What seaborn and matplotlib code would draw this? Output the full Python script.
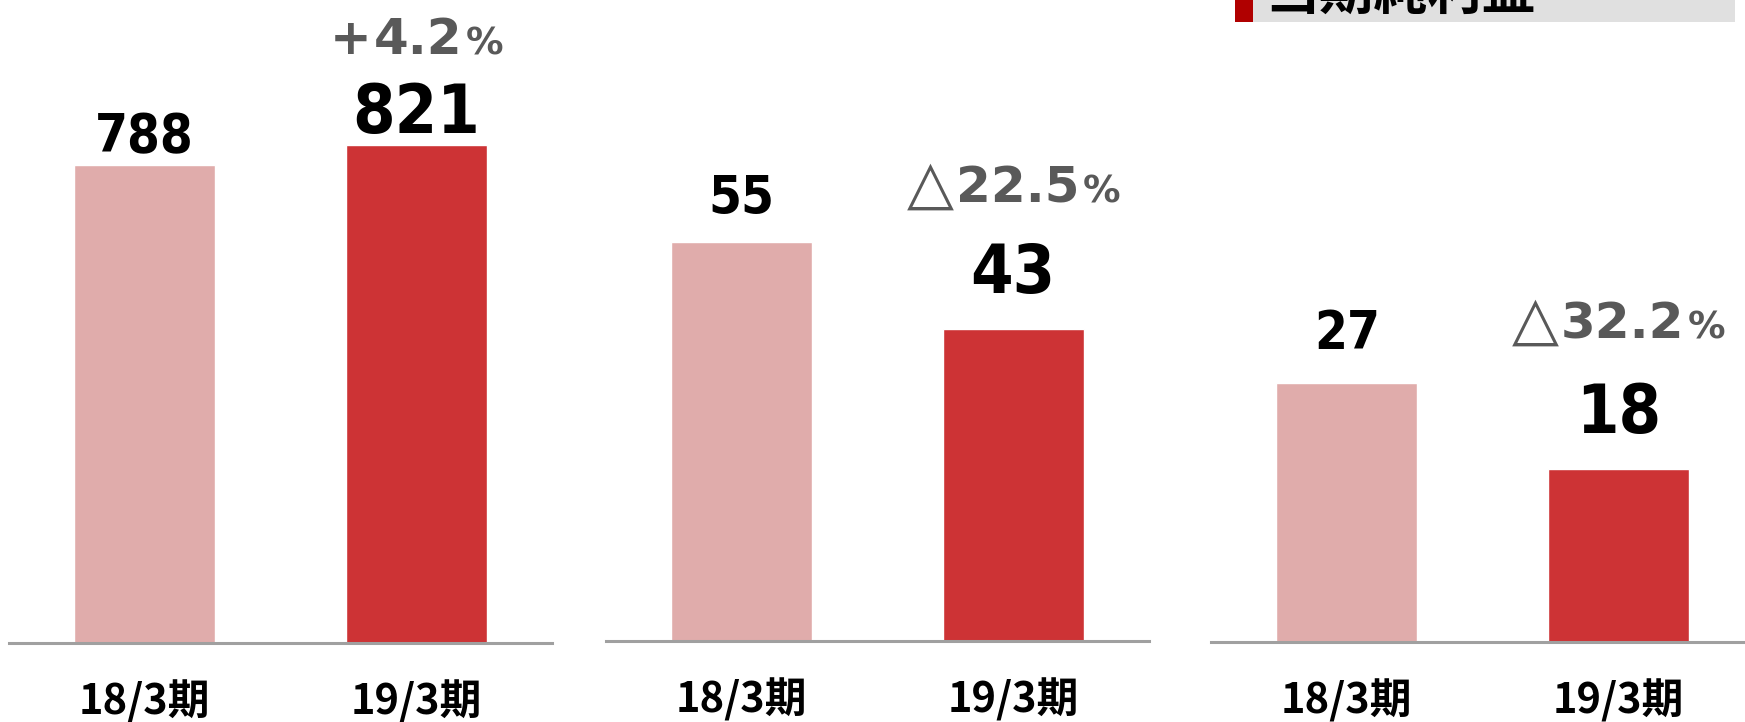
from pathlib import Path

import matplotlib

matplotlib.use("Agg")

import matplotlib.pyplot as plt
import seaborn as sns
from matplotlib.offsetbox import AnnotationBbox, HPacker, TextArea
from matplotlib.patches import Rectangle


OUTPUT_PATH = Path("out.png")

PERIODS = ["18/3期", "19/3期"]
SALES = [788, 821]
OPERATING_PROFIT = [55, 43]
NET_PROFIT = [27, 18]
CHANGE_SIGNS = ["+", "△", "△"]
CHANGE_RATES = ["4.2", "22.5", "32.2"]
TITLE = "当期純利益"

LIGHT_RED = "#E0ACAB"
DARK_RED = "#CD3335"
GREY_TEXT = "#595959"

FIG_W, FIG_H = 1745, 722
# panel layout in pixels: left edge, baseline from top, y max of the axis
PANELS = [(9, 643, 1061), (606, 641, 88.4), (1211, 642, 66.9)]
PANEL_W = 543
VALUE_PAD = [(13, 12), (28, 36), (34, 36)]  # px, bar top -> label baseline
CHANGE_PAD = [93, 128, 132]  # px, new bar top -> change label baseline

PX = 0.72  # points per pixel at dpi 100
NUM_FONT = dict(family=["DejaVu Sans"], fontstretch="condensed", fontweight="bold")


def change_label(ax, sign, rate, top, pad):
    if sign == "+":
        sign_props = dict(fontsize=36, color=GREY_TEXT, family=["DejaVu Sans"],
                          fontweight="bold")
        descent = 12
    else:
        sign_props = dict(fontsize=44, color=GREY_TEXT, family=["DejaVu Sans"],
                          fontweight="normal")
        descent = 14
    rate_props = dict(fontsize=36, color=GREY_TEXT, family=["DejaVu Sans"],
                      fontweight="bold")
    pct_props = dict(fontsize=27, color=GREY_TEXT, family=["DejaVu Sans"],
                     fontweight="bold")
    box = HPacker(
        children=[TextArea(sign, textprops=sign_props),
                  TextArea(rate, textprops=rate_props),
                  TextArea("%", textprops=pct_props)],
        align="baseline", pad=0, sep=2,
    )
    ab = AnnotationBbox(box, xy=(1, top), xycoords="data",
                        xybox=(0, (pad - descent) * PX), boxcoords="offset points",
                        box_alignment=(0.5, 0), frameon=False, pad=0)
    ax.add_artist(ab)


def main() -> None:
    sns.set_theme(style="white")
    plt.rcParams["font.family"] = ["DejaVu Sans", "Noto Sans CJK JP"]

    fig = plt.figure(figsize=(FIG_W / 100, FIG_H / 100), dpi=100)
    series = [SALES, OPERATING_PROFIT, NET_PROFIT]

    for k, (values, (left, base, ymax)) in enumerate(zip(series, PANELS)):
        ax = fig.add_axes([left / FIG_W, (FIG_H - base) / FIG_H,
                           PANEL_W / FIG_W, base / FIG_H])
        ax.patch.set_alpha(0)
        sns.barplot(x=PERIODS, y=values, hue=PERIODS,
                    palette=[LIGHT_RED, DARK_RED], saturation=1,
                    width=0.52, legend=False, ax=ax)
        ax.set_xlim(-0.5, 1.5)
        ax.set_ylim(0, ymax)
        ax.set_yticks([])
        ax.set_xlabel("")
        ax.set_ylabel("")
        sns.despine(ax=ax, left=True)
        ax.spines["bottom"].set_color("#A0A0A0")
        ax.spines["bottom"].set_linewidth(2.2)
        ax.set_xticks([0, 1])
        ax.set_xticklabels(PERIODS, fontsize=30, fontweight="bold",
                           family=["Noto Sans CJK JP"], color="black")
        ax.tick_params(axis="x", length=0, pad=27)

        for i, v in enumerate(values):
            ax.annotate(str(v), xy=(i, v), xytext=(0, VALUE_PAD[k][i] * PX),
                        textcoords="offset points", ha="center", va="baseline",
                        fontsize=38 if i == 0 else 49, color="black", **NUM_FONT)

        change_label(ax, CHANGE_SIGNS[k], CHANGE_RATES[k], values[1], CHANGE_PAD[k])

    # section heading at the top right, cut by the top edge as in the source
    fig.add_artist(Rectangle((1235 / FIG_W, 1 - 22 / FIG_H), 18 / FIG_W, 22 / FIG_H,
                             transform=fig.transFigure, color="#B00000", lw=0))
    fig.add_artist(Rectangle((1253 / FIG_W, 1 - 22 / FIG_H), 482 / FIG_W, 22 / FIG_H,
                             transform=fig.transFigure, color="#E0E0E0", lw=0))
    fig.text(1265 / FIG_W, 1 - 10 / FIG_H, TITLE, fontsize=39, fontweight="bold",
             family=["Noto Sans CJK JP"], ha="left", va="baseline", color="black")

    fig.savefig(OUTPUT_PATH, dpi=100)


if __name__ == "__main__":
    main()
